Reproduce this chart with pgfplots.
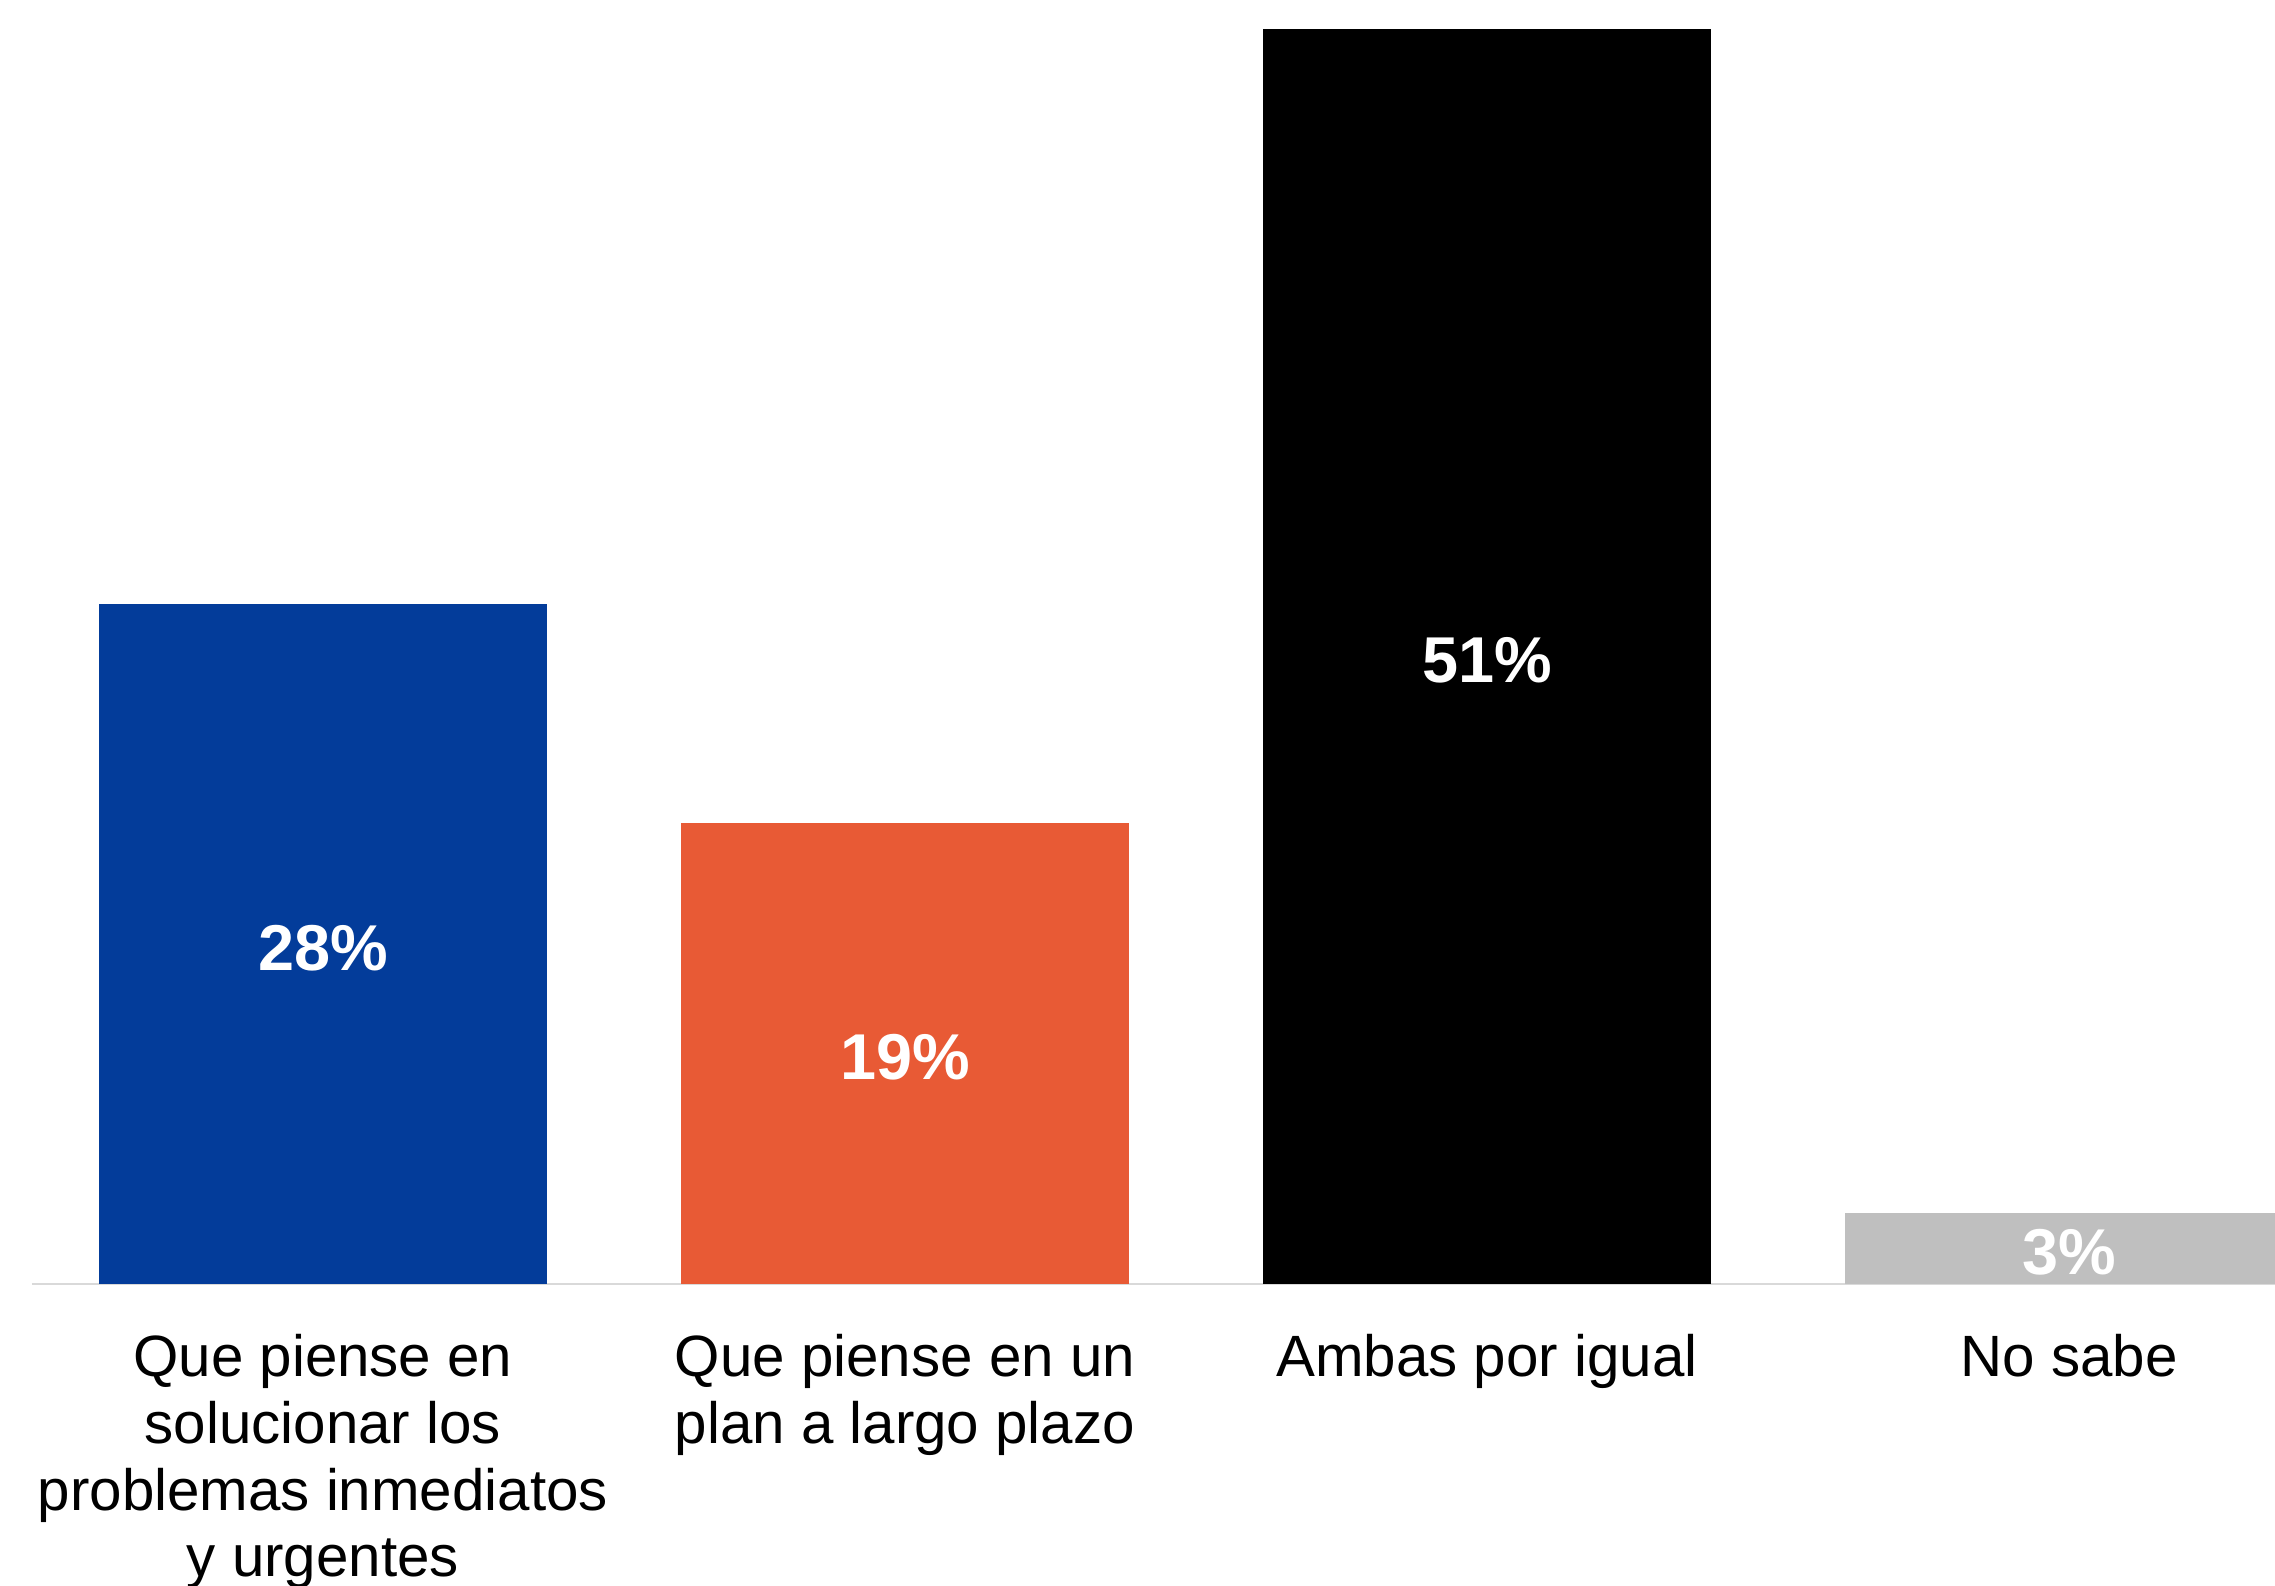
\documentclass[border=0pt]{standalone}
\usepackage{pgfplots}
\pgfplotsset{compat=1.18}
\usepackage{fontspec}
\setmainfont{Liberation Sans}
\definecolor{cblue}{HTML}{033C9A}
\definecolor{corange}{HTML}{E85A35}
\definecolor{cgray}{HTML}{BFBFBF}
\definecolor{caxis}{HTML}{D9D9D9}
\begin{document}
\begin{tikzpicture}
\begin{axis}[
  at={(6.6pt,62.4pt)}, anchor=south west,
  scale only axis,
  width=463.8pt, height=265.5pt,
  xmin=-0.5, xmax=3.354,
  ymin=0, ymax=52.68,
  ybar, bar shift=0pt, bar width=0.77,
  axis x line*=bottom,
  axis y line=none,
  x axis line style={draw=caxis, line width=0.6pt, -},
  ytick=\empty,
  xtick={0,1,2,3},
  major tick length=0pt,
  xticklabels={{Que piense en\\solucionar los\\problemas inmediatos\\y urgentes},{Que piense en un\\plan a largo plazo},{Ambas por igual},{No sabe}},
  xticklabel style={align=center, anchor=north, inner sep=0pt, yshift=-10.2pt, font=\fontsize{12.05}{13.8}\selectfont, text=black},
  point meta=explicit symbolic,
  nodes near coords,
  visualization depends on={y \as \rawy},
  every node near coord/.append style={anchor=center, text=white, font=\fontsize{13.4}{15}\selectfont\bfseries, shift={(axis direction cs:0,-\rawy/2)}, yshift=-0.8pt},
]
\addplot[fill=cblue, draw=none] coordinates {(0,27.9) [28\%]};
\addplot[fill=corange, draw=none] coordinates {(1,18.9) [19\%]};
\addplot[fill=black, draw=none] coordinates {(2,51.5) [51\%]};
\addplot[fill=cgray, draw=none] coordinates {(3,2.9) [3\%]};
\end{axis}
\pgfresetboundingbox
\path[use as bounding box] (0,0) rectangle (470.4pt,327.9pt);
\end{tikzpicture}
\end{document}
